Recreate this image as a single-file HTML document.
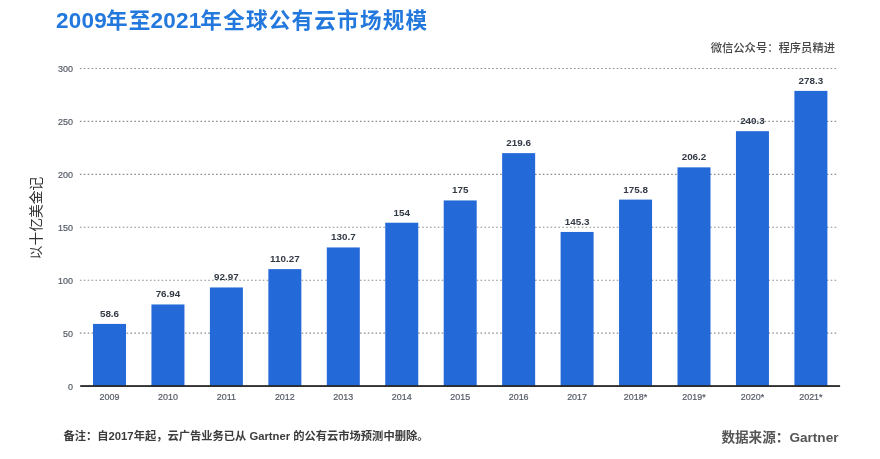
<!DOCTYPE html>
<html lang="zh-CN"><head><meta charset="utf-8"><title>2009年至2021年全球公有云市场规模</title>
<style>
html,body{margin:0;padding:0;background:#fff;}
body{width:880px;height:459px;overflow:hidden;position:relative;font-family:"Liberation Sans","Noto Sans CJK SC",sans-serif;}
svg{position:absolute;left:0;top:0;display:block}
text{font-family:"Liberation Sans","Noto Sans CJK SC",sans-serif}
.t{position:absolute;white-space:nowrap;line-height:1;}
#title{left:56px;top:9.6px;font-size:21.6px;font-weight:bold;color:#2278dc;letter-spacing:1.2px;}
#title b{font-size:22.5px;font-weight:bold;letter-spacing:0.25px;margin-right:-1.2px}
#title b+b{margin-left:-1px}
#wm{right:45px;top:43.3px;font-size:11.3px;font-weight:500;color:#444;}
#note{left:63.5px;top:431px;font-size:11.27px;font-weight:bold;color:#3c3c3c;}
#note b,#src b{font-weight:bold}
#src{right:41.5px;top:430.8px;font-size:13.6px;font-weight:bold;color:#555;}
#ytitle{left:36.6px;top:218px;font-size:13.8px;color:#333;transform:translate(-50%,-50%) rotate(-90deg);transform-origin:50% 50%;}
</style></head><body>
<svg width="880" height="459" viewBox="0 0 880 459">
<line x1="79.9" x2="838.5" y1="333.14" y2="333.14" stroke="#8a8d94" stroke-width="1.1" stroke-dasharray="1.6 2.29"/>
<line x1="79.9" x2="838.5" y1="280.21" y2="280.21" stroke="#8a8d94" stroke-width="1.1" stroke-dasharray="1.6 2.29"/>
<line x1="79.9" x2="838.5" y1="227.28" y2="227.28" stroke="#8a8d94" stroke-width="1.1" stroke-dasharray="1.6 2.29"/>
<line x1="79.9" x2="838.5" y1="174.35" y2="174.35" stroke="#8a8d94" stroke-width="1.1" stroke-dasharray="1.6 2.29"/>
<line x1="79.9" x2="838.5" y1="121.42" y2="121.42" stroke="#8a8d94" stroke-width="1.1" stroke-dasharray="1.6 2.29"/>
<line x1="79.9" x2="838.5" y1="68.49" y2="68.49" stroke="#8a8d94" stroke-width="1.1" stroke-dasharray="1.6 2.29"/>
<text x="73" y="389.62" text-anchor="end" font-size="8.95" fill="#555b66" stroke="#555b66" stroke-width="0.2">0</text>
<text x="73" y="336.69" text-anchor="end" font-size="8.95" fill="#555b66" stroke="#555b66" stroke-width="0.2">50</text>
<text x="73" y="283.76" text-anchor="end" font-size="8.95" fill="#555b66" stroke="#555b66" stroke-width="0.2">100</text>
<text x="73" y="230.83" text-anchor="end" font-size="8.95" fill="#555b66" stroke="#555b66" stroke-width="0.2">150</text>
<text x="73" y="177.90" text-anchor="end" font-size="8.95" fill="#555b66" stroke="#555b66" stroke-width="0.2">200</text>
<text x="73" y="124.97" text-anchor="end" font-size="8.95" fill="#555b66" stroke="#555b66" stroke-width="0.2">250</text>
<text x="73" y="72.04" text-anchor="end" font-size="8.95" fill="#555b66" stroke="#555b66" stroke-width="0.2">300</text>
<rect x="93.00" y="323.91" width="33.0" height="62.16" fill="#2469d8"/>
<text x="109.50" y="316.81" text-anchor="middle" font-size="9.85" font-weight="bold" fill="#333a45">58.6</text>
<text x="109.50" y="400.3" text-anchor="middle" font-size="8.95" fill="#555b66" stroke="#555b66" stroke-width="0.2">2009</text>
<rect x="151.45" y="304.46" width="33.0" height="81.61" fill="#2469d8"/>
<text x="167.95" y="297.36" text-anchor="middle" font-size="9.85" font-weight="bold" fill="#333a45">76.94</text>
<text x="167.95" y="400.3" text-anchor="middle" font-size="8.95" fill="#555b66" stroke="#555b66" stroke-width="0.2">2010</text>
<rect x="209.90" y="287.46" width="33.0" height="98.61" fill="#2469d8"/>
<text x="226.40" y="280.36" text-anchor="middle" font-size="9.85" font-weight="bold" fill="#333a45">92.97</text>
<text x="226.40" y="400.3" text-anchor="middle" font-size="8.95" fill="#555b66" stroke="#555b66" stroke-width="0.2">2011</text>
<rect x="268.35" y="269.11" width="33.0" height="116.96" fill="#2469d8"/>
<text x="284.85" y="262.01" text-anchor="middle" font-size="9.85" font-weight="bold" fill="#333a45">110.27</text>
<text x="284.85" y="400.3" text-anchor="middle" font-size="8.95" fill="#555b66" stroke="#555b66" stroke-width="0.2">2012</text>
<rect x="326.80" y="247.44" width="33.0" height="138.63" fill="#2469d8"/>
<text x="343.30" y="240.34" text-anchor="middle" font-size="9.85" font-weight="bold" fill="#333a45">130.7</text>
<text x="343.30" y="400.3" text-anchor="middle" font-size="8.95" fill="#555b66" stroke="#555b66" stroke-width="0.2">2013</text>
<rect x="385.25" y="222.72" width="33.0" height="163.35" fill="#2469d8"/>
<text x="401.75" y="215.62" text-anchor="middle" font-size="9.85" font-weight="bold" fill="#333a45">154</text>
<text x="401.75" y="400.3" text-anchor="middle" font-size="8.95" fill="#555b66" stroke="#555b66" stroke-width="0.2">2014</text>
<rect x="443.70" y="200.45" width="33.0" height="185.62" fill="#2469d8"/>
<text x="460.20" y="193.35" text-anchor="middle" font-size="9.85" font-weight="bold" fill="#333a45">175</text>
<text x="460.20" y="400.3" text-anchor="middle" font-size="8.95" fill="#555b66" stroke="#555b66" stroke-width="0.2">2015</text>
<rect x="502.15" y="153.14" width="33.0" height="232.93" fill="#2469d8"/>
<text x="518.65" y="146.04" text-anchor="middle" font-size="9.85" font-weight="bold" fill="#333a45">219.6</text>
<text x="518.65" y="400.3" text-anchor="middle" font-size="8.95" fill="#555b66" stroke="#555b66" stroke-width="0.2">2016</text>
<rect x="560.60" y="231.95" width="33.0" height="154.12" fill="#2469d8"/>
<text x="577.10" y="224.85" text-anchor="middle" font-size="9.85" font-weight="bold" fill="#333a45">145.3</text>
<text x="577.10" y="400.3" text-anchor="middle" font-size="8.95" fill="#555b66" stroke="#555b66" stroke-width="0.2">2017</text>
<rect x="619.05" y="199.60" width="33.0" height="186.47" fill="#2469d8"/>
<text x="635.55" y="192.50" text-anchor="middle" font-size="9.85" font-weight="bold" fill="#333a45">175.8</text>
<text x="635.55" y="400.3" text-anchor="middle" font-size="8.95" fill="#555b66" stroke="#555b66" stroke-width="0.2">2018*</text>
<rect x="677.50" y="167.35" width="33.0" height="218.72" fill="#2469d8"/>
<text x="694.00" y="160.25" text-anchor="middle" font-size="9.85" font-weight="bold" fill="#333a45">206.2</text>
<text x="694.00" y="400.3" text-anchor="middle" font-size="8.95" fill="#555b66" stroke="#555b66" stroke-width="0.2">2019*</text>
<rect x="735.95" y="131.18" width="33.0" height="254.89" fill="#2469d8"/>
<text x="752.45" y="124.08" text-anchor="middle" font-size="9.85" font-weight="bold" fill="#333a45">240.3</text>
<text x="752.45" y="400.3" text-anchor="middle" font-size="8.95" fill="#555b66" stroke="#555b66" stroke-width="0.2">2020*</text>
<rect x="794.40" y="90.88" width="33.0" height="295.19" fill="#2469d8"/>
<text x="810.90" y="83.78" text-anchor="middle" font-size="9.85" font-weight="bold" fill="#333a45">278.3</text>
<text x="810.90" y="400.3" text-anchor="middle" font-size="8.95" fill="#555b66" stroke="#555b66" stroke-width="0.2">2021*</text>
<rect x="80.2" y="385.15" width="759.9" height="1.8" fill="#262626"/>
</svg>
<div class="t" id="title"><b>2009</b>年至<b>2021</b>年全球公有云市场规模</div>
<div class="t" id="wm">微信公众号：程序员精进</div>
<div class="t" id="ytitle">以十亿美金记</div>
<div class="t" id="note">备注：自<b>2017</b>年起，云广告业务已从 <b>Gartner</b> 的公有云市场预测中删除。</div>
<div class="t" id="src">数据来源：Gartner</div>
</body></html>
